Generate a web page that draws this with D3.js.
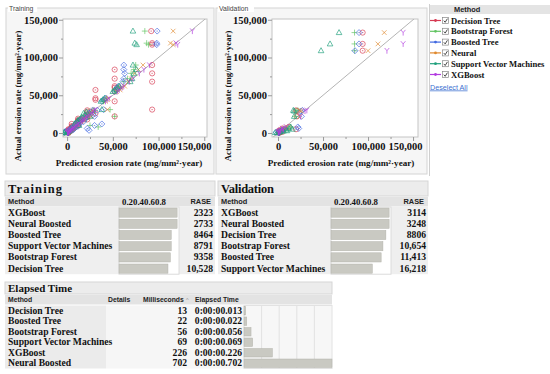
<!doctype html>
<html>
<head>
<meta charset="utf-8">
<script src="https://cdnjs.cloudflare.com/ajax/libs/d3/7.8.5/d3.min.js"></script>
<style>
  body { margin: 0; background: #fff; }
  svg { display: block; }
  .serif { font-family: "Liberation Serif", "Times New Roman", serif; font-weight: bold; fill: #111; }
  .sans { font-family: "Liberation Sans", Arial, sans-serif; }
</style>
</head>
<body>
<svg id="chart" width="550" height="374"></svg>
<script>
// ---- legend / methods ----
var methods = ["Decision Tree", "Bootstrap Forest", "Boosted Tree", "Neural", "Support Vector Machines", "XGBoost"];
var methodColors = ["#d63a52", "#62c462", "#4169e1", "#e0892e", "#1fa07c", "#b23ae0"];
var methodShapes = ["circle", "plus", "diamond", "cross", "triangle", "y"];

// ---- training: actual vs predicted (same order in every array) ----
var trainActual = [135000, 119000, 117000, 90000, 84000, 79000, 72000, 68000, 62000, 60000, 57000, 55000, 46000, 44000, 42000, 31000, 30000, 28000, 26000, 24000, 22000, 21000, 19000, 17000, 15000, 13000, 12000, 10000, 9000, 8000, 7000, 6000, 5000, 4000, 3500, 3000, 2500, 2000, 1500, 1000, 600, 300, 18000, 16000, 11000, 6500, 4500, 2200, 800];
var trainDT  = [92000, 93000, 93000, 93000, 52000, 93000, 52000, 93000, 52000, 52000, 31000, 52000, 31000, 31000, 52000, 93000, 22000, 22000, 31000, 22000, 52000, 22000, 12000, 12000, 12000, 12000, 5000, 12000, 5000, 5000, 5000, 5000, 1500, 1500, 1500, 1500, 1500, 1500, 1500, 1500, 1500, 1500, 22000, 12000, 12000, 5000, 5000, 1500, 1500];
var trainBF  = [85000, 87000, 89000, 75000, 73000, 70000, 66000, 62000, 58000, 56000, 52000, 54000, 43000, 41000, 40000, 47000, 30000, 24000, 22000, 20000, 52000, 18000, 16000, 14000, 13000, 11000, 10000, 25000, 8000, 34000, 6000, 5000, 4000, 3500, 3000, 2500, 2000, 1500, 1200, 800, 500, 300, 21000, 17000, 9000, 7000, 4000, 2500, 1000];
var trainBT  = [98500, 98000, 98000, 62000, 62000, 63000, 62000, 61000, 56000, 55000, 54000, 52000, 42000, 40000, 38000, 40000, 33000, 26000, 24000, 28000, 30000, 22000, 20000, 16000, 18000, 14000, 38000, 30000, 12000, 10000, 9000, 22000, 7000, 6000, 24000, 5000, 4000, 3000, 2500, 2000, 1500, 1000, 16000, 14000, 13000, 8000, 6000, -2000, -3000];
var trainNN  = [116000, 113000, 116000, 83000, 78000, 74000, 70000, 67000, 63000, 59000, 58000, 54000, 45000, 44000, 42000, 44000, 27000, 29000, 25000, 23000, 26000, 21000, 18000, 17000, 15000, 13000, 11000, 11000, 9000, 8000, 7000, 6000, 5000, 4000, 3000, 3000, 2500, 2000, 1500, 1000, 600, 300, 17000, 15000, 10000, 6000, 4000, 2000, 900];
var trainSVM = [72000, 74000, 76000, 72000, 76000, 73000, 71000, 69000, 57000, 55000, 52000, 50000, 41000, 39000, 37000, 38000, 28000, 21000, 18000, 20000, 25000, 16000, 15000, 12000, 11000, 9000, 8000, 13000, 7000, 6000, 5000, 4000, 3000, 2500, 2000, 1500, 1000, 800, 500, -2000, -3000, -1000, 14000, 12000, 8000, 4000, 3000, 1000, -2500];
var trainXGB = [137000, 119000, 121000, 90000, 84000, 79000, 72000, 68000, 62000, 60000, 57000, 55000, 46000, 44000, 42000, 31000, 29000, 28000, 26000, 24000, 22000, 21000, 19000, 17000, 15000, 13000, 12000, 10000, 9000, 8000, 7000, 6000, 5000, 4000, 3500, 3000, 2500, 2000, 1500, 1000, 600, 300, 18000, 16000, 11000, 6500, 4500, 2200, 800];

// ---- validation: actual vs predicted ----
var valActual = [133000, 118000, 109000, 30000, 29000, 22000, 8000, 6000, 5000, 4000, 3000, 2500, 2000, 1500, 1000, 600, 300];
var valDT  = [94000, 94000, 94000, 20000, 21000, 21000, 12000, 5000, 20000, 5000, 1500, 1500, 1500, 5000, 1500, 1500, 1500];
var valBF  = [85000, 85000, 85000, 22000, 20000, 19000, 14000, 10000, 8000, 3000, 2000, 5000, 1500, 1000, 800, 500, 300];
var valBT  = [90000, 90000, 85500, 27000, 25000, 26000, 22000, 23000, 6000, 5000, 4000, 3000, 2000, 1000, -2000, 1500, 1000];
var valNN  = [118000, 111000, 100000, 24000, 26000, 24000, 10000, 7000, 4000, 3000, 2000, 1500, 2500, 1000, 500, 300, 200];
var valSVM = [67800, 57800, 47800, 17000, 18000, 18000, 14000, 12000, 16000, 9000, 10000, 6000, 3000, 2000, 1000, -3000, -1000];
var valXGB = [139000, 139000, 121000, 32000, 30000, 25000, 9000, 5000, 6000, 3000, 2000, 3000, 1500, 1000, 800, 400, 200];

var axisTicks = [0, 50000, 100000, 150000];

// ---- fit summary tables ----
var trainMethods = ["XGBoost", "Neural Boosted", "Boosted Tree", "Support Vector Machines", "Bootstrap Forest", "Decision Tree"];
var trainRsq = [0.985, 0.985, 0.885, 0.885, 0.87, 0.83];
var trainRase = [2323, 2733, 8464, 8791, 9358, 10528];

var valMethods = ["XGBoost", "Neural Boosted", "Decision Tree", "Bootstrap Forest", "Boosted Tree", "Support Vector Machines"];
var valRsq = [0.985, 0.985, 0.93, 0.88, 0.85, 0.70];
var valRase = [3114, 3248, 8806, 10654, 11413, 16218];

var timeMethods = ["Decision Tree", "Boosted Tree", "Bootstrap Forest", "Support Vector Machines", "XGBoost", "Neural Boosted"];
var timeMs = [13, 22, 56, 69, 226, 702];

var svg = d3.select("#chart");

function markerPath(shape, x, y) {
  var p = d3.path();
  if (shape == "circle") {
    p.moveTo(x + 2.6, y); p.arc(x, y, 2.6, 0, 2 * Math.PI);
    p.moveTo(x - 0.7, y); p.lineTo(x + 0.7, y);
  } else if (shape == "plus") {
    p.moveTo(x - 3, y); p.lineTo(x + 3, y);
    p.moveTo(x, y - 3); p.lineTo(x, y + 3);
  } else if (shape == "diamond") {
    p.moveTo(x, y - 3); p.lineTo(x + 3, y); p.lineTo(x, y + 3); p.lineTo(x - 3, y); p.closePath();
    p.moveTo(x - 0.7, y); p.lineTo(x + 0.7, y);
  } else if (shape == "cross") {
    p.moveTo(x - 2.3, y - 2.3); p.lineTo(x + 2.3, y + 2.3);
    p.moveTo(x - 2.3, y + 2.3); p.lineTo(x + 2.3, y - 2.3);
  } else if (shape == "triangle") {
    p.moveTo(x, y - 3); p.lineTo(x + 2.8, y + 2); p.lineTo(x - 2.8, y + 2); p.closePath();
  } else {
    p.moveTo(x - 2.3, y - 2.7); p.lineTo(x, y); p.lineTo(x + 2.3, y - 2.7);
    p.moveTo(x, y); p.lineTo(x, y + 3);
  }
  return p.toString();
}

function drawScatter(o) {
  var g = svg.append("g");
  // panel
  g.append("rect").attr("x", o.px0).attr("y", 8).attr("width", o.px1 - o.px0).attr("height", 166)
    .attr("fill", "#f6f6f6").attr("stroke", "#d4d4d4");
  g.append("rect").attr("x", o.px0 + 2).attr("y", 4).attr("width", o.label.length * 3.4 + 2).attr("height", 8).attr("fill", "#fff");
  g.append("text").attr("class", "sans").attr("x", o.px0 + 3).attr("y", 10.5)
    .style("font-size", "6.8px").style("fill", "#444").text(o.label);

  var x = d3.scaleLinear().domain(o.xDomain).range([o.left, o.right]);
  var y = d3.scaleLinear().domain([-5300, 151000]).range([137, 19]);

  g.append("rect").attr("x", o.left).attr("y", 19).attr("width", o.right - o.left).attr("height", 118)
    .attr("fill", "#fff").attr("stroke", "#c4c4c4");

  var clipId = "clip" + o.label;
  g.append("clipPath").attr("id", clipId).append("rect")
    .attr("x", o.left).attr("y", 19).attr("width", o.right - o.left).attr("height", 118);

  var plot = g.append("g").attr("clip-path", "url(#" + clipId + ")");
  plot.append("line")
    .attr("x1", x(-10000)).attr("y1", y(-10000)).attr("x2", x(170000)).attr("y2", y(170000))
    .attr("stroke", "#b4b4b4").attr("stroke-width", 1);

  o.preds.forEach(function(pred, m) {
    plot.selectAll(null).data(pred).enter().append("path")
      .attr("d", function(d, i) { return markerPath(methodShapes[m], x(d), y(o.actual[i])); })
      .attr("fill", "none").attr("stroke", methodColors[m]).attr("stroke-width", 0.9)
      .attr("stroke-opacity", 0.75);
  });

  // minor ticks
  var minor = [25000, 75000, 125000];
  g.append("g").attr("transform", "translate(" + o.left + ",0)")
    .call(d3.axisLeft(y).tickValues(minor).tickSize(2).tickFormat(""))
    .call(function(a) { a.select(".domain").remove(); a.selectAll("line").attr("stroke", "#999"); });
  g.append("g").attr("transform", "translate(0,137)")
    .call(d3.axisBottom(x).tickValues(minor).tickSize(2).tickFormat(""))
    .call(function(a) { a.select(".domain").remove(); a.selectAll("line").attr("stroke", "#999"); });

  var ya = g.append("g").attr("transform", "translate(" + o.left + ",0)")
    .call(d3.axisLeft(y).tickValues(axisTicks).tickSize(4).tickPadding(1).tickFormat(d3.format(",")));
  var xa = g.append("g").attr("transform", "translate(0,137)")
    .call(d3.axisBottom(x).tickValues(axisTicks).tickSize(4).tickPadding(2).tickFormat(d3.format(",")));
  [ya, xa].forEach(function(a) {
    a.select(".domain").remove();
    a.selectAll("line").attr("stroke", "#999");
    a.selectAll("text").attr("class", "serif").style("font-size", "10.5px").attr("fill", "#111");
  });
  // JMP pulls the last x label inside the frame
  xa.selectAll("text").filter(function(d) { return d == 150000; })
    .attr("text-anchor", "end").attr("x", o.right + 4 - x(150000));

  g.append("text").attr("class", "serif").attr("text-anchor", "middle")
    .attr("x", o.xTitleX).attr("y", 165.5).style("font-size", "9.1px")
    .text("Predicted erosion rate (mg/mm\u00B2\u00B7year)");
  g.append("text").attr("class", "serif").attr("text-anchor", "middle")
    .attr("transform", "translate(" + (o.px0 + 14.5) + ",96) rotate(-90)").style("font-size", "8.8px")
    .text("Actual erosion rate (mg/mm\u00B2\u00B7year)");
}

drawScatter({ px0: 6, px1: 214, label: "Training", left: 63, right: 207, xDomain: [-4500, 153000],
  xTitleX: 129, actual: trainActual, preds: [trainDT, trainBF, trainBT, trainNN, trainSVM, trainXGB] });
drawScatter({ px0: 216, px1: 427, label: "Validation", left: 272, right: 418, xDomain: [-6700, 155500],
  xTitleX: 341, actual: valActual, preds: [valDT, valBF, valBT, valNN, valSVM, valXGB] });

// ---- legend ----
var lg = svg.append("g");
lg.append("line").attr("x1", 429.5).attr("x2", 429.5).attr("y1", 4).attr("y2", 176).attr("stroke", "#cfcfcf");
lg.append("rect").attr("x", 430).attr("y", 5).attr("width", 120).attr("height", 9).attr("fill", "#e4e4e4");
lg.append("text").attr("class", "sans").attr("x", 454).attr("y", 12.3)
  .style("font-size", "7.4px").style("font-weight", "bold").style("fill", "#222").text("Method");
var items = lg.selectAll("g.item").data(methods).enter().append("g")
  .attr("transform", function(d, i) { return "translate(0," + (20.5 + i * 10.8) + ")"; });
items.append("line").attr("x1", 430).attr("x2", 441).attr("y1", 0).attr("y2", 0)
  .attr("stroke", function(d, i) { return methodColors[i]; }).attr("stroke-width", 1.2);
items.append("circle").attr("cx", 435.5).attr("cy", 0).attr("r", 1.4)
  .attr("fill", function(d, i) { return methodColors[i]; });
items.append("rect").attr("x", 442.5).attr("y", -3).attr("width", 6).attr("height", 6)
  .attr("fill", "#fff").attr("stroke", "#888").attr("stroke-width", 0.7);
items.append("path").attr("d", "M443.8,0.2 L445.2,1.8 L447.4,-1.8").attr("fill", "none")
  .attr("stroke", "#333").attr("stroke-width", 0.9);
items.append("text").attr("class", "serif").attr("x", 451).attr("y", 3.1)
  .style("font-size", "8.6px").text(function(d) { return d; });
lg.append("text").attr("class", "sans").attr("x", 430).attr("y", 89.5)
  .style("font-size", "7.2px").style("fill", "#3a6fd0").style("text-decoration", "underline").text("Deselect All");

// ---- RASE tables ----
var fmtRase = function(v) { return v >= 10000 ? d3.format(",")(v) : String(v); };

function drawRaseTable(o) {
  var g = svg.append("g");
  var w = o.x1 - o.x0;
  g.append("rect").attr("x", o.x0).attr("y", 181).attr("width", w).attr("height", 15)
    .attr("fill", "#ececec").attr("stroke", "#d6d6d6");
  g.append("text").attr("class", "serif").attr("x", o.x0 + 3).attr("y", 193)
    .attr("textLength", o.titleLen).attr("lengthAdjust", "spacing")
    .style("font-size", "12.5px").text(o.title);
  g.append("rect").attr("x", o.x0).attr("y", 197).attr("width", w).attr("height", 9.5).attr("fill", "#e3e3e3");
  g.append("text").attr("class", "sans").attr("x", o.x0 + 3).attr("y", 204.3)
    .style("font-size", "7.4px").style("font-weight", "bold").style("fill", "#222").text("Method");
  g.append("text").attr("class", "serif").attr("x", o.barX0 + 3).attr("y", 204.6)
    .style("font-size", "8.8px").text("0.20.40.60.8");
  g.append("text").attr("class", "sans").attr("x", o.raseRight - 2).attr("y", 204.3).attr("text-anchor", "end")
    .style("font-size", "7.4px").style("font-weight", "bold").style("fill", "#222").text("RASE");

  var rowH = 11.2, top = 207;
  g.append("rect").attr("x", o.x0).attr("y", top).attr("width", w).attr("height", rowH * 6)
    .attr("fill", "#efefef");
  g.append("rect").attr("x", o.barX0).attr("y", top).attr("width", o.barX1 - o.barX0 + 1).attr("height", rowH * 6)
    .attr("fill", "#fff").attr("stroke", "#dcdcdc");

  var bx = d3.scaleLinear().domain([0, 1]).range([o.barX0, o.barX1]);
  g.selectAll(null).data(o.rsq).enter().append("rect")
    .attr("x", bx(0)).attr("y", function(d, i) { return top + i * rowH + 1; })
    .attr("width", function(d) { return bx(d) - bx(0); }).attr("height", rowH - 2)
    .attr("fill", "#c9c9c2").attr("stroke", "#b3b3ab").attr("stroke-width", 0.5);
  g.selectAll(null).data(o.methods).enter().append("text").attr("class", "serif")
    .attr("x", o.x0 + 3).attr("y", function(d, i) { return top + i * rowH + 8.6; })
    .style("font-size", "9.6px").text(function(d) { return d; });
  g.selectAll(null).data(o.rase).enter().append("text").attr("class", "serif")
    .attr("x", o.raseRight).attr("y", function(d, i) { return top + i * rowH + 8.6; })
    .attr("text-anchor", "end").style("font-size", "9.6px").text(fmtRase);
}

drawRaseTable({ x0: 5, x1: 215, title: "Training", titleLen: 54, methods: trainMethods, rsq: trainRsq,
  rase: trainRase, barX0: 119, barX1: 178, raseRight: 213 });
drawRaseTable({ x0: 218, x1: 428, title: "Validation", titleLen: 53, methods: valMethods, rsq: valRsq,
  rase: valRase, barX0: 331, barX1: 390, raseRight: 426 });

// ---- elapsed time table ----
(function() {
  var g = svg.append("g");
  var x0 = 5, x1 = 332, barX0 = 244;
  g.append("rect").attr("x", x0).attr("y", 282).attr("width", x1 - x0).attr("height", 12)
    .attr("fill", "#ececec").attr("stroke", "#d6d6d6");
  g.append("text").attr("class", "serif").attr("x", x0 + 3).attr("y", 292)
    .style("font-size", "11px").text("Elapsed Time");
  g.append("rect").attr("x", x0).attr("y", 295).attr("width", x1 - x0).attr("height", 9.5).attr("fill", "#e3e3e3");
  var hdr = [["Method", x0 + 3], ["Details", 108], ["Milliseconds", 143], ["Elapsed Time", 195]];
  hdr.forEach(function(h) {
    g.append("text").attr("class", "sans").attr("x", h[1]).attr("y", 302.3)
      .style("font-size", "6.8px").style("font-weight", "bold").style("fill", "#222").text(h[0]);
  });
  g.append("text").attr("class", "sans").attr("x", 186).attr("y", 302).style("font-size", "5.5px")
    .style("fill", "#999").text("^");

  var rowH = 10.5, top = 305.5;
  g.append("rect").attr("x", x0).attr("y", top).attr("width", 101).attr("height", rowH * 6).attr("fill", "#ebebeb");
  g.append("rect").attr("x", 106).attr("y", top).attr("width", barX0 - 106).attr("height", rowH * 6).attr("fill", "#f6f6f6");
  g.append("rect").attr("x", barX0).attr("y", top).attr("width", x1 - barX0).attr("height", rowH * 6)
    .attr("fill", "#f7f7f7").attr("stroke", "#e2e2e2");
  d3.range(1, 5).forEach(function(k) {
    var gx = barX0 + k * (x1 - barX0) / 5;
    g.append("line").attr("x1", gx).attr("x2", gx).attr("y1", top).attr("y2", top + rowH * 6)
      .attr("stroke", "#e2e2e2");
  });

  var bx = d3.scaleLinear().domain([0, d3.max(timeMs)]).range([barX0, x1]);
  g.selectAll(null).data(timeMs).enter().append("rect")
    .attr("x", bx(0)).attr("y", function(d, i) { return top + i * rowH + 1; })
    .attr("width", function(d) { return Math.max(1.5, bx(d) - bx(0)); }).attr("height", rowH - 2)
    .attr("fill", "#c9c9c2").attr("stroke", "#b3b3ab").attr("stroke-width", 0.5);
  g.selectAll(null).data(timeMethods).enter().append("text").attr("class", "serif")
    .attr("x", x0 + 3).attr("y", function(d, i) { return top + i * rowH + 8.2; })
    .style("font-size", "9.6px").text(function(d) { return d; });
  g.selectAll(null).data(timeMs).enter().append("text").attr("class", "serif")
    .attr("x", 187).attr("y", function(d, i) { return top + i * rowH + 8.2; })
    .attr("text-anchor", "end").style("font-size", "9.6px").text(function(d) { return d; });
  g.selectAll(null).data(timeMs).enter().append("text").attr("class", "serif")
    .attr("x", 242).attr("y", function(d, i) { return top + i * rowH + 8.2; })
    .attr("text-anchor", "end").style("font-size", "9.6px")
    .text(function(d) { return "0:00:00." + d3.format("03d")(d); });
})();
</script>
</body>
</html>
